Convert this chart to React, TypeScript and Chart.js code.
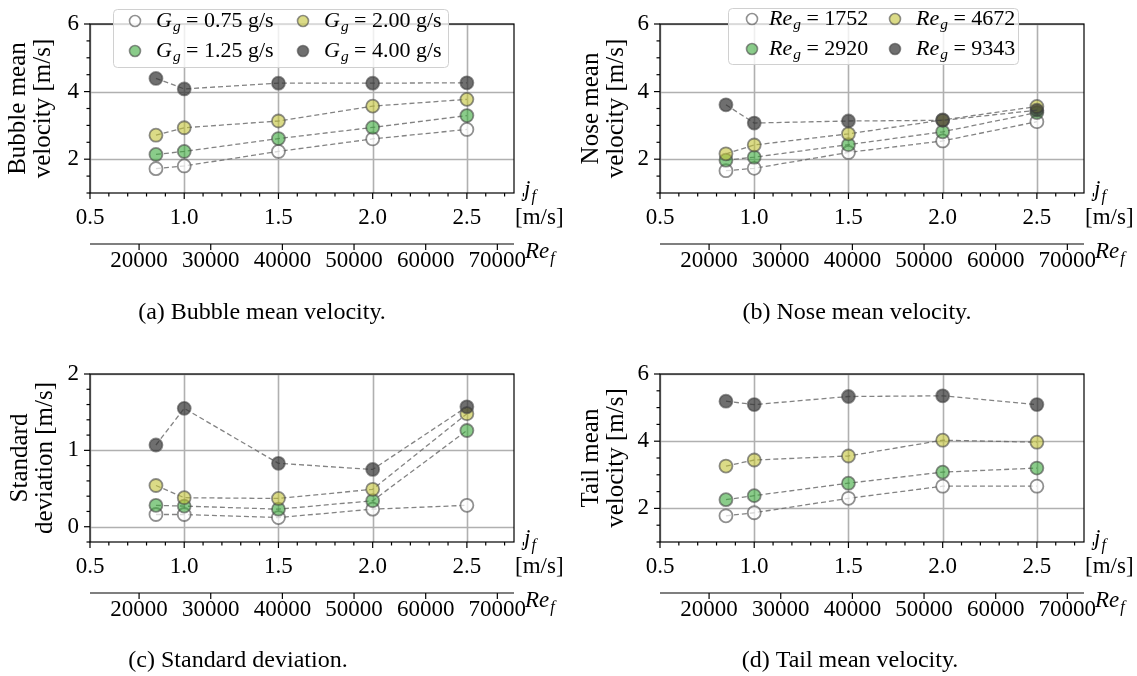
import React, { useEffect, useRef } from "react";
import { Chart, registerables } from "chart.js";

Chart.register(...registerables);

// ---------- data ----------
const jf = [0.85, 1.0, 1.5, 2.0, 2.5];
const xMajorTicks = [0.5, 1.0, 1.5, 2.0, 2.5];
const reTicks = [20000, 30000, 40000, 50000, 60000, 70000];
const reFactor = 26300; // Re_f per 1 m/s of j_f

const gasFlowLabels = ["0.75", "1.25", "2.00", "4.00"];
const gasReLabels = ["1752", "2920", "4672", "9343"];

const bubble075 = [1.72, 1.8, 2.23, 2.6, 2.88];
const bubble125 = [2.14, 2.23, 2.61, 2.94, 3.29];
const bubble200 = [2.71, 2.93, 3.13, 3.57, 3.77];
const bubble400 = [4.39, 4.08, 4.25, 4.25, 4.26];

const nose075 = [1.66, 1.73, 2.2, 2.54, 3.11];
const nose125 = [1.97, 2.06, 2.43, 2.81, 3.38];
const nose200 = [2.16, 2.42, 2.75, 3.16, 3.56];
const nose400 = [3.61, 3.07, 3.13, 3.15, 3.45];

const std075 = [0.16, 0.16, 0.12, 0.23, 0.28];
const std125 = [0.28, 0.27, 0.23, 0.34, 1.26];
const std200 = [0.54, 0.38, 0.37, 0.49, 1.48];
const std400 = [1.07, 1.55, 0.83, 0.75, 1.57];

const tail075 = [1.78, 1.87, 2.3, 2.66, 2.66];
const tail125 = [2.26, 2.38, 2.75, 3.08, 3.2];
const tail200 = [3.26, 3.44, 3.56, 4.03, 3.97];
const tail400 = [5.19, 5.09, 5.33, 5.35, 5.09];

// ---------- style ----------
const FONT = '"Liberation Serif", "DejaVu Serif", serif';
const seriesFill = [
  "rgba(255,255,255,0.7)",
  "rgba(60,170,60,0.6)",
  "rgba(195,195,55,0.6)",
  "rgba(50,50,50,0.7)",
];
const seriesEdge = "rgba(70,70,70,0.6)";
const gridColor = "#b0b0b0";

function f(size: number, italic = false) {
  return `${italic ? "italic " : ""}${size}px ${FONT}`;
}

function drawMath(
  ctx: CanvasRenderingContext2D,
  x: number,
  y: number,
  sym: string,
  sub: string,
  rest: string,
  size: number,
  align: "left" | "center" = "left"
) {
  ctx.font = f(size, true);
  const w1 = ctx.measureText(sym).width;
  ctx.font = f(size * 0.7, true);
  const w2 = ctx.measureText(sub).width;
  ctx.font = f(size);
  const w3 = rest ? ctx.measureText(rest).width : 0;
  const total = w1 + w2 + w3 + 1;
  const sx = align === "center" ? x - total / 2 : x;
  ctx.textAlign = "left";
  ctx.textBaseline = "middle";
  ctx.fillStyle = "#000";
  ctx.font = f(size, true);
  ctx.fillText(sym, sx, y);
  ctx.font = f(size * 0.7, true);
  ctx.fillText(sub, sx + w1 + 1, y + size * 0.28);
  if (rest) {
    ctx.font = f(size);
    ctx.fillText(rest, sx + w1 + w2 + 1, y);
  }
}

type PanelCfg = {
  id: string;
  left: number;
  top: number;
  w: number;
  h: number;
  pad: { left: number; right: number; top: number; bottom: number };
  series: number[][];
  yMin: number;
  yMax: number;
  yMajor: number[];
  yMinorStep: number;
  yLabel: string[];
  yLabelX: number[];
  caption: string;
  captionX: number;
  captionY: number;
  legend?: {
    sym: string;
    labels: string[];
    unit: string;
    box: [number, number, number, number];
    markerX: [number, number];
    textX: [number, number];
    rowY: [number, number];
  };
};

const panels: PanelCfg[] = [
  {
    id: "a",
    left: 0,
    top: 0,
    w: 568,
    h: 338,
    pad: { left: 90, right: 54, top: 24, bottom: 145 },
    series: [bubble075, bubble125, bubble200, bubble400],
    yMin: 1,
    yMax: 6,
    yMajor: [2, 4, 6],
    yMinorStep: 0.5,
    yLabel: ["Bubble mean", "velocity [m/s]"],
    yLabelX: [18, 43],
    caption: "(a) Bubble mean velocity.",
    captionX: 262,
    captionY: 313,
    legend: {
      sym: "G",
      labels: gasFlowLabels,
      unit: " g/s",
      box: [113, 9, 448, 67],
      markerX: [135, 303],
      textX: [156, 324],
      rowY: [21, 51],
    },
  },
  {
    id: "b",
    left: 568,
    top: 0,
    w: 569,
    h: 338,
    pad: { left: 92, right: 53, top: 24, bottom: 145 },
    series: [nose075, nose125, nose200, nose400],
    yMin: 1,
    yMax: 6,
    yMajor: [2, 4, 6],
    yMinorStep: 0.5,
    yLabel: ["Nose mean", "velocity [m/s]"],
    yLabelX: [591, 616],
    caption: "(b) Nose mean velocity.",
    captionX: 857,
    captionY: 313,
    legend: {
      sym: "Re",
      labels: gasReLabels,
      unit: "",
      box: [728, 8, 1018, 64],
      markerX: [752, 895],
      textX: [769, 916],
      rowY: [19, 49],
    },
  },
  {
    id: "c",
    left: 0,
    top: 338,
    w: 568,
    h: 338,
    pad: { left: 90, right: 54, top: 36, bottom: 134 },
    series: [std075, std125, std200, std400],
    yMin: -0.2,
    yMax: 2,
    yMajor: [0, 1, 2],
    yMinorStep: 0.2,
    yLabel: ["Standard", "deviation [m/s]"],
    yLabelX: [20, 45],
    caption: "(c) Standard deviation.",
    captionX: 238,
    captionY: 661,
  },
  {
    id: "d",
    left: 568,
    top: 338,
    w: 569,
    h: 338,
    pad: { left: 92, right: 53, top: 36, bottom: 134 },
    series: [tail075, tail125, tail200, tail400],
    yMin: 1,
    yMax: 6,
    yMajor: [2, 4, 6],
    yMinorStep: 0.5,
    yLabel: ["Tail mean", "velocity [m/s]"],
    yLabelX: [591, 616],
    caption: "(d) Tail mean velocity.",
    captionX: 850,
    captionY: 661,
  },
];

function makePlugin(cfg: PanelCfg) {
  const ox = cfg.left;
  const oy = cfg.top;
  return {
    id: "decor_" + cfg.id,
    beforeDatasetsDraw(chart: any) {
      const ctx: CanvasRenderingContext2D = chart.ctx;
      const { left, right, top, bottom } = chart.chartArea;
      const xs = chart.scales.x;
      const ys = chart.scales.y;
      ctx.save();
      ctx.strokeStyle = gridColor;
      ctx.lineWidth = 1.6;
      xMajorTicks.forEach((v) => {
        const px = Math.round(xs.getPixelForValue(v)) + 0.5;
        ctx.beginPath();
        ctx.moveTo(px, top);
        ctx.lineTo(px, bottom);
        ctx.stroke();
      });
      cfg.yMajor.forEach((v) => {
        const py = Math.round(ys.getPixelForValue(v)) + 0.5;
        ctx.beginPath();
        ctx.moveTo(left, py);
        ctx.lineTo(right, py);
        ctx.stroke();
      });
      ctx.restore();
    },
    afterDraw(chart: any) {
      const ctx: CanvasRenderingContext2D = chart.ctx;
      const { left, right, top, bottom } = chart.chartArea;
      const xs = chart.scales.x;
      const ys = chart.scales.y;
      ctx.save();
      ctx.fillStyle = "#000";
      ctx.strokeStyle = "#000";
      ctx.lineWidth = 1.2;
      // spines
      ctx.strokeRect(left, top, right - left, bottom - top);
      // x ticks
      const xMin = xs.min;
      const xMax = xs.max;
      for (let k = Math.round(xMin * 10); k <= Math.round(xMax * 10); k++) {
        const v = k / 10;
        const major = k % 5 === 0;
        const px = xs.getPixelForValue(v);
        ctx.beginPath();
        ctx.moveTo(px, bottom);
        ctx.lineTo(px, bottom + (major ? 6 : 3.5));
        ctx.stroke();
      }
      ctx.font = f(23);
      ctx.textAlign = "center";
      ctx.textBaseline = "middle";
      xMajorTicks.forEach((v) => {
        ctx.fillText(v.toFixed(1), xs.getPixelForValue(v), bottom + 25);
      });
      // y ticks
      const nMinor = Math.round((cfg.yMax - cfg.yMin) / cfg.yMinorStep);
      for (let k = 0; k <= nMinor; k++) {
        const v = cfg.yMin + k * cfg.yMinorStep;
        const major = cfg.yMajor.some((m) => Math.abs(m - v) < 1e-6);
        const py = ys.getPixelForValue(v);
        ctx.beginPath();
        ctx.moveTo(left, py);
        ctx.lineTo(left - (major ? 6 : 3.5), py);
        ctx.stroke();
      }
      ctx.textAlign = "right";
      cfg.yMajor.forEach((v) => {
        ctx.fillText(String(v), left - 11, ys.getPixelForValue(v));
      });
      // x axis title
      drawMath(ctx, right + 10, bottom - 3, "j", "f", "", 23);
      ctx.font = f(23);
      ctx.textAlign = "left";
      ctx.fillText("[m/s]", right + 1, bottom + 25);
      // secondary Re_f axis
      const reY = bottom + 51;
      ctx.beginPath();
      ctx.moveTo(left, reY);
      ctx.lineTo(right, reY);
      ctx.stroke();
      reTicks.forEach((r) => {
        const px = xs.getPixelForValue(r / reFactor);
        ctx.beginPath();
        ctx.moveTo(px, reY);
        ctx.lineTo(px, reY + 6);
        ctx.stroke();
        ctx.font = f(23);
        ctx.textAlign = "center";
        ctx.fillText(String(r), px, reY + 17);
      });
      drawMath(ctx, right + 11, reY + 8, "Re", "f", "", 23);
      // y label
      ctx.font = f(25);
      ctx.textAlign = "center";
      ctx.textBaseline = "middle";
      const cy = (top + bottom) / 2;
      cfg.yLabel.forEach((line, i) => {
        ctx.save();
        ctx.translate(cfg.yLabelX[i] - ox, cy);
        ctx.rotate(-Math.PI / 2);
        ctx.fillText(line, 0, 0);
        ctx.restore();
      });
      // caption
      ctx.font = f(24);
      ctx.textAlign = "center";
      ctx.fillText(cfg.caption, cfg.captionX - ox, cfg.captionY - oy);
      // legend
      const lg = cfg.legend;
      if (lg) {
        const [bx0, by0, bx1, by1] = lg.box;
        ctx.beginPath();
        const rx = bx0 - ox + 0.5;
        const ry = by0 - oy + 0.5;
        if ((ctx as any).roundRect) {
          (ctx as any).roundRect(rx, ry, bx1 - bx0, by1 - by0, 4);
        } else {
          ctx.rect(rx, ry, bx1 - bx0, by1 - by0);
        }
        ctx.fillStyle = "rgba(255,255,255,0.8)";
        ctx.fill();
        ctx.strokeStyle = "#d0d0d0";
        ctx.lineWidth = 1;
        ctx.stroke();
        lg.labels.forEach((lab, i) => {
          const col = i < 2 ? 0 : 1;
          const row = i % 2;
          const mx = lg.markerX[col] - ox;
          const my = lg.rowY[row] - oy;
          ctx.beginPath();
          ctx.arc(mx, my, 5.5, 0, Math.PI * 2);
          ctx.fillStyle = seriesFill[i];
          ctx.fill();
          ctx.strokeStyle = seriesEdge;
          ctx.lineWidth = 1.6;
          ctx.stroke();
          drawMath(ctx, lg.textX[col] - ox, my, lg.sym, "g", " = " + lab + lg.unit, 22);
        });
      }
      ctx.restore();
    },
  };
}

function Panel({ cfg }: { cfg: PanelCfg }) {
  const ref = useRef<HTMLCanvasElement>(null);
  useEffect(() => {
    if (!ref.current) return;
    const chart = new Chart(ref.current, {
      type: "line",
      data: {
        datasets: cfg.series.map((vals, i) => ({
          data: jf.map((x, k) => ({ x, y: vals[k] })),
          borderColor: "rgba(100,100,100,0.8)",
          borderWidth: 1.3,
          borderDash: [5, 3],
          pointRadius: 6.5,
          pointBorderWidth: 1.8,
          pointBackgroundColor: seriesFill[i],
          pointBorderColor: seriesEdge,
          fill: false,
          tension: 0,
          order: 3 - i,
        })),
      },
      options: {
        responsive: false,
        devicePixelRatio: 1,
        animation: false,
        events: [],
        layout: { padding: cfg.pad },
        plugins: { legend: { display: false }, tooltip: { enabled: false } },
        scales: {
          x: { type: "linear", display: false, min: 0.5, max: 2.75 },
          y: { type: "linear", display: false, min: cfg.yMin, max: cfg.yMax },
        },
      },
      plugins: [makePlugin(cfg)],
    } as any);
    return () => chart.destroy();
  }, [cfg]);
  return (
    <canvas
      ref={ref}
      width={cfg.w}
      height={cfg.h}
      style={{
        position: "absolute",
        left: cfg.left,
        top: cfg.top,
        width: cfg.w,
        height: cfg.h,
      }}
    />
  );
}

export default function App() {
  return (
    <div
      style={{
        position: "absolute",
        left: 0,
        top: 0,
        width: 1137,
        height: 676,
        background: "#fff",
      }}
    >
      {panels.map((p) => (
        <Panel key={p.id} cfg={p} />
      ))}
    </div>
  );
}
